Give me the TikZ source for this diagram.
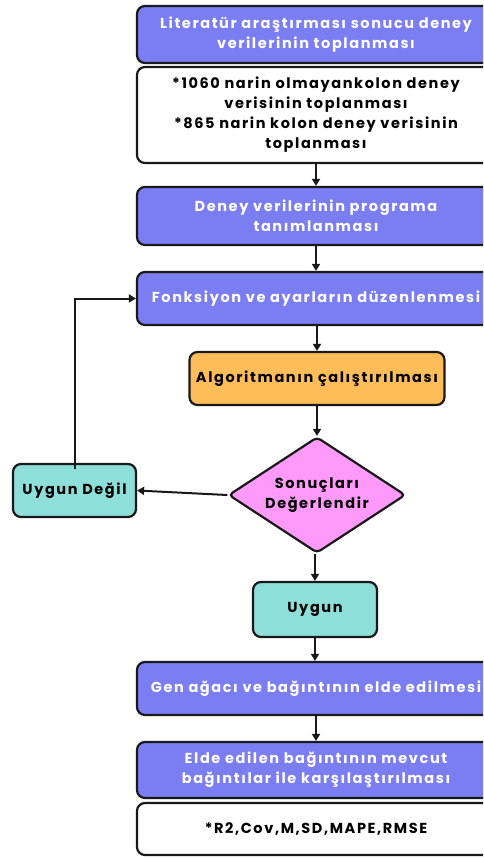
\documentclass[tikz,border=0pt]{standalone}
\usepackage{fontspec}
\setmainfont{Poppins}[LetterSpace=11]
\usetikzlibrary{arrows.meta,shapes.geometric}
\definecolor{bluebox}{RGB}{122,126,242}
\definecolor{orangebox}{RGB}{255,189,89}
\definecolor{pinkbox}{RGB}{255,154,250}
\definecolor{tealbox}{RGB}{142,222,217}
\definecolor{edge}{RGB}{25,25,25}
\tikzset{
  x=1pt,y=-1pt,
  base/.style={draw=edge,line width=2.2pt,rounded corners=8pt,align=center,
    inner sep=2pt,font=\fontsize{14.5}{20}\selectfont\bfseries},
  bluestep/.style={base,fill=bluebox,text=white,minimum width=358pt},
  whitestep/.style={base,fill=white,text=black,minimum width=358pt},
  orangestep/.style={base,fill=orangebox,text=black},
  tealstep/.style={base,fill=tealbox,text=black},
  decide/.style={base,shape=diamond,shape aspect=1.5,fill=pinkbox,text=black,rounded corners=4pt,inner sep=-4pt},
  arr/.style={draw=edge,line width=2pt,-{Triangle[length=7pt,width=8pt]}}
}
\begin{document}
\begin{tikzpicture}
\useasboundingbox (0,0) rectangle (483,859);
\clip (0,0) rectangle (483,859);
\node[bluestep,minimum height=57pt] (b1) at (316,34.5) {Literatür araştırması sonucu deney\\verilerinin toplanması};
\node[whitestep,minimum height=96pt] (b2) at (316,115) {*1060 narin olmayankolon deney\\verisinin toplanması\\*865 narin kolon deney verisinin\\toplanması};
\node[bluestep,minimum height=58pt] (b3) at (316,216) {Deney verilerinin programa\\tanımlanması};
\node[bluestep,minimum height=53pt] (b4) at (316,298.5) {Fonksiyon ve ayarların düzenlenmesi};
\node[orangestep,minimum width=255pt,minimum height=53pt] (alg) at (317,378.5) {Algoritmanın çalıştırılması};
\node[decide,minimum width=177pt,minimum height=116pt] (dia) at (317,495) {Sonuçları\\Değerlendir};
\node[tealstep,minimum width=123pt,minimum height=53pt] (ud) at (74.5,490.5) {Uygun Değil};
\node[tealstep,minimum width=124pt,minimum height=55pt] (ug) at (315,609.5) {Uygun};
\node[bluestep,minimum height=53pt] (b5) at (316,688.5) {Gen ağacı ve bağıntının elde edilmesi};
\node[bluestep,minimum height=56pt] (b6) at (316,770) {Elde edilen bağıntının mevcut\\bağıntılar ile karşılaştırılması};
\node[whitestep,minimum height=52pt] (b7) at (316,829) {*R2,Cov,M,SD,MAPE,RMSE};
\draw[arr] (b2.south) -- (b3.north);
\draw[arr] (b3.south) -- (b4.north);
\draw[arr] (b4.south -| alg.north) -- (alg.north);
\draw[arr] (alg.south) -- (dia.north);
\draw[arr] (dia.west) -- (ud.east);
\draw[arr,shorten <=-6pt] (ud.north) |- (b4.west);
\draw[arr] (dia.south -| ug.north) -- (ug.north);
\draw[arr] (ug.south) -- (b5.north -| ug.south);
\draw[arr] (b5.south) -- (b6.north);
\end{tikzpicture}
\end{document}
